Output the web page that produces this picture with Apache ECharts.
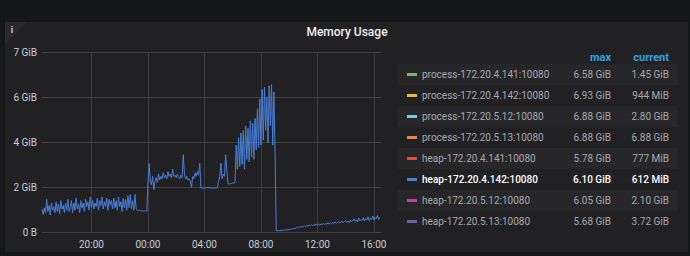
<!DOCTYPE html>
<html><head><meta charset="utf-8">
<script src="https://cdn.jsdelivr.net/npm/echarts@6.0.0/dist/echarts.min.js"></script>
<style>html,body{margin:0;padding:0;background:#161719;}#c{width:690px;height:256px;}</style>
</head><body><div id="c"></div>
<script>
// ---- data ----
const seriesNames = [
  'process-172.20.4.141:10080','process-172.20.4.142:10080','process-172.20.5.12:10080','process-172.20.5.13:10080',
  'heap-172.20.4.141:10080','heap-172.20.4.142:10080','heap-172.20.5.12:10080','heap-172.20.5.13:10080'
];
const seriesColors = ['#7eb26d','#eab839','#6ed0e0','#ef843c','#e24d42','#4a7ed6','#ba43a9','#705da0'];
const maxLabels = ['6.58 GiB','6.93 GiB','6.88 GiB','6.88 GiB','5.78 GiB','6.10 GiB','6.05 GiB','5.68 GiB'];
const currentLabels = ['1.45 GiB','944 MiB','2.80 GiB','6.88 GiB','777 MiB','612 MiB','2.10 GiB','3.72 GiB'];
const xTickLabels = ['20:00','00:00','04:00','08:00','12:00','16:00'];
const yTickLabels = ['0 B','2 GiB','4 GiB','6 GiB','7 GiB'];
const yTickStepBytes = 2e9;
const startMinutes = 16 * 60 + 30, stepMinutes = 5, categoryCount = 289;

// heap-172.20.4.142:10080 in GiB, 5-minute samples from 16:30
const heapEvening = [0.95,0.72,1.0,0.78,1.35,0.85,1.1,0.7,1.2,0.9,1.05,0.8,
 1.25,0.85,1.15,0.75,1.3,0.95,1.1,0.8,1.2,0.9,1.35,0.85,
 1.0,1.3,0.8,1.2,0.9,1.4,0.95,1.15,0.8,1.3,1.0,1.2,
 0.85,1.35,1.05,1.25,0.9,1.45,1.0,1.3,0.95,1.2,1.05,1.4,
 0.9,1.3,1.1,1.45,0.95,1.25,1.05,1.4,0.9,1.35,1.1,1.3,
 0.95,1.4,1.0,1.3,0.9,1.45,1.05,1.25,0.85,1.4,1.0,1.35,
 0.9,1.5,1.0,1.55,0.95,1.3,0.9,1.55,0.95,0.9,0.88,0.9,
 0.87,0.88,0.86,0.87,0.88,0.86];
const heapNight = [2.0,2.83,2.1,1.95,2.3,1.75,2.1,2.25,2.05,2.4,
 2.15,2.3,2.2,2.45,2.25,2.35,2.2,2.5,2.3,2.4,
 2.25,2.6,2.3,2.35,2.25,2.4,2.3,2.2,2.35,2.25,
 3.2,2.4,2.2,2.3,2.15,2.2,2.1,1.85,2.3,2.2,
 2.45,2.3,2.5,2.35,2.85];
const heapFlat = [1.82,1.82,1.81,1.82,1.82,1.83,1.85,1.83,1.82,1.82,1.82,1.81,1.82,1.82,1.83];
const heapMorning = [2.1,2.3,2.85,2.2,2.4,2.3,3.2,2.6,2.0,1.98,2.02,2.0,2.05,2.0,2.1,
 3.6,2.6,3.9,2.7,4.1,2.8,4.2,2.6,4.4,3.0,4.3,2.9,4.6,3.1,4.5,3.0,4.7,3.4,5.1,3.5,
 5.5,3.6,5.9,3.8,6.0,4.2,5.6,3.7,6.05,4.4,6.1,3.6,5.8,3.3];
const heapDay = [0.06,
 0.05,0.06,0.05,0.07,0.06,0.08,0.07,0.09,0.08,0.1,0.09,0.11,
 0.13,0.12,0.16,0.14,0.18,0.2,0.17,0.22,0.19,0.24,0.21,0.25,
 0.22,0.27,0.24,0.29,0.25,0.3,0.26,0.31,0.27,0.33,0.28,0.32,
 0.29,0.34,0.3,0.36,0.31,0.35,0.32,0.38,0.33,0.37,0.34,0.4,
 0.35,0.42,0.36,0.39,0.44,0.37,0.41,0.46,0.38,0.43,0.47,0.4,
 0.45,0.39,0.5,0.42,0.47,0.55,0.44,0.5,0.41,0.58,0.46,0.52,
 0.48,0.6,0.45,0.55,0.5,0.63,0.47,0.58,0.52,0.66,0.49,0.6,
 0.55,0.68,0.52,0.6];
const heap142 = heapEvening.concat(heapNight, heapFlat, heapMorning, heapDay);
const visibleIndex = 5;

// ---- build ----
const GIB = 1073741824;
const categories = [];
for (let i = 0; i < categoryCount; i++) {
  const m = (startMinutes + i * stepMinutes) % 1440;
  categories.push(String(Math.floor(m / 60)).padStart(2, '0') + ':' + String(m % 60).padStart(2, '0'));
}
const showTick = (idx, val) => xTickLabels.indexOf(val) >= 0 && idx > 0;

const FONT = 'Roboto, "Noto Sans", sans-serif';
const textGray = '#c7d0d9';
const legendGray = '#a5a9ae';

const chart = echarts.init(document.getElementById('c'), null, { renderer: 'svg' });
chart.setOption({
  backgroundColor: '#161719',
  animation: false,
  title: {
    text: 'Memory Usage', left: 347, top: 26, textAlign: 'center', padding: 0,
    textStyle: { color: '#eceef0', fontFamily: FONT, fontSize: 12, fontWeight: 500 }
  },
  grid: { left: 42, top: 52, width: 339, height: 180, containLabel: false },
  xAxis: {
    type: 'category', data: categories, boundaryGap: false,
    axisLine: { show: false }, axisTick: { show: false },
    axisLabel: { interval: showTick, color: textGray, fontFamily: FONT, fontSize: 10, margin: 7 },
    splitLine: { show: true, interval: showTick, lineStyle: { color: '#3f3f43', width: 1 } }
  },
  yAxis: {
    type: 'value', min: 0, max: yTickStepBytes * (yTickLabels.length - 1), interval: yTickStepBytes,
    axisLine: { show: false }, axisTick: { show: false },
    axisLabel: { color: textGray, fontFamily: FONT, fontSize: 10, margin: 5,
      formatter: v => yTickLabels[Math.round(v / yTickStepBytes)] },
    splitLine: { lineStyle: { color: '#3f3f43', width: 1 } }
  },
  legend: {
    orient: 'vertical', left: 407, top: 64, padding: 0, itemGap: 0,
    itemWidth: 10, itemHeight: 3, icon: 'rect', selectedMode: false,
    data: seriesNames,
    formatter: name => {
      const i = seriesNames.indexOf(name);
      const h = i === visibleIndex ? 'h' : '';
      return '{n' + h + '|' + name + '}{m' + h + '|' + maxLabels[i] + '}{c' + h + '|' + currentLabels[i] + '}';
    },
    textStyle: {
      color: legendGray, fontFamily: FONT, fontSize: 10, lineHeight: 21,
      rich: {
        n: { width: 129, align: 'left', color: legendGray, fontFamily: FONT, fontSize: 10, lineHeight: 21 },
        m: { width: 60, align: 'right', color: legendGray, fontFamily: FONT, fontSize: 10, lineHeight: 21 },
        c: { width: 58, align: 'right', color: legendGray, fontFamily: FONT, fontSize: 10, lineHeight: 21 },
        nh: { width: 129, align: 'left', color: '#ffffff', fontWeight: 500, fontFamily: FONT, fontSize: 10, lineHeight: 21 },
        mh: { width: 60, align: 'right', color: '#ffffff', fontWeight: 500, fontFamily: FONT, fontSize: 10, lineHeight: 21 },
        ch: { width: 58, align: 'right', color: '#ffffff', fontWeight: 500, fontFamily: FONT, fontSize: 10, lineHeight: 21 }
      }
    }
  },
  graphic: [
    { type: 'rect', z: -20, shape: { x: 5, y: 22, width: 683, height: 230 }, style: { fill: '#212124' } },
    { type: 'polygon', z: -19, shape: { points: [[5, 22], [27, 22], [5, 44]] }, style: { fill: '#2a2a2e' } },
    { type: 'text', z: -18, x: 12, y: 30, style: { text: 'i', fill: textGray, font: 'bold 9px ' + FONT, textAlign: 'center', textVerticalAlign: 'middle' } },
    { type: 'rect', z: -19, shape: { x: 398, y: 64, width: 280, height: 21 }, style: { fill: '#27272a' } },
    { type: 'rect', z: -19, shape: { x: 398, y: 106, width: 280, height: 21 }, style: { fill: '#27272a' } },
    { type: 'rect', z: -19, shape: { x: 398, y: 148, width: 280, height: 21 }, style: { fill: '#27272a' } },
    { type: 'rect', z: -19, shape: { x: 398, y: 190, width: 280, height: 21 }, style: { fill: '#27272a' } },
    { type: 'text', x: 611, y: 57, style: { text: 'max', fill: '#33a2e5', font: 'bold 11px ' + FONT, textAlign: 'right', textVerticalAlign: 'middle' } },
    { type: 'text', x: 669, y: 57, style: { text: 'current', fill: '#33a2e5', font: 'bold 11px ' + FONT, textAlign: 'right', textVerticalAlign: 'middle' } }
  ],
  series: seriesNames.map((name, i) => ({
    name, type: 'line', color: seriesColors[i], symbol: 'none', showSymbol: false,
    lineStyle: { width: 1, color: seriesColors[i] },
    data: i === visibleIndex ? heap142.map(v => v * GIB) : []
  }))
});
</script></body></html>
